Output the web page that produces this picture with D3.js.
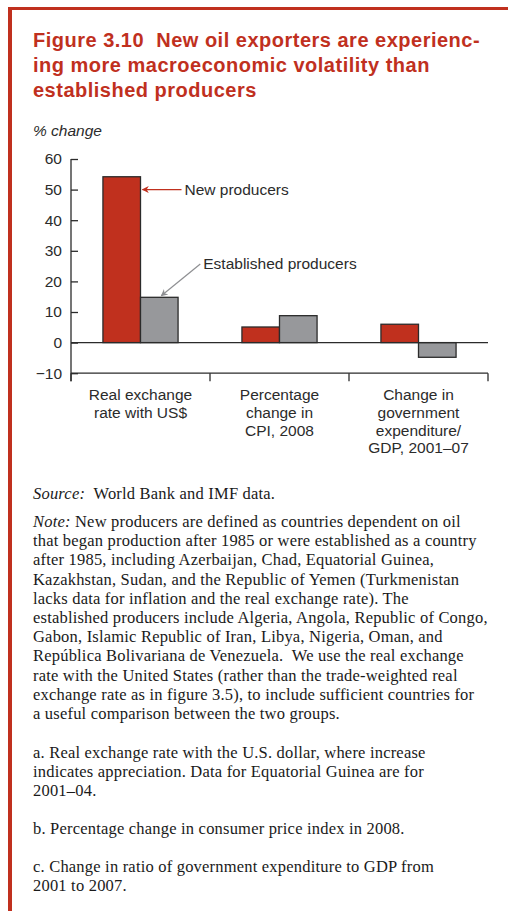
<!DOCTYPE html>
<html>
<head>
<meta charset="utf-8">
<script src="https://cdn.jsdelivr.net/npm/d3@7"></script>
<style>
  body { margin: 0; background: #fff; }
  .sans { font-family: "Liberation Sans", Arial, sans-serif; }
  .serif { font-family: "Liberation Serif", "Times New Roman", serif; }
</style>
</head>
<body>
<div class="chart"></div>
<script>
const width = 508;
const height = 911;
const red = '#c0301e';
const grey = '#97989b';
const ink = '#2b2b2b';

// data
const categories = ['Real exchange rate with US$', 'Percentage change in CPI, 2008', 'Change in government expenditure/GDP, 2001–07'];
const categoryLines = [
    ['Real exchange', 'rate with US$'],
    ['Percentage', 'change in', 'CPI, 2008'],
    ['Change in', 'government', 'expenditure/', 'GDP, 2001–07']
];
const series = ['New producers', 'Established producers'];
const newProducers = [54.2, 5.1, 6.0];
const establishedProducers = [14.8, 8.8, -4.8];
const yTicks = [-10, 0, 10, 20, 30, 40, 50, 60];

const titleLines = [
    'Figure 3.10\u00a0 New oil exporters are experienc-',
    'ing more macroeconomic volatility than',
    'established producers'
];
const noteLines = [
    'that began production after 1985 or were established as a country',
    'after 1985, including Azerbaijan, Chad, Equatorial Guinea,',
    'Kazakhstan, Sudan, and the Republic of Yemen (Turkmenistan',
    'lacks data for inflation and the real exchange rate). The',
    'established producers include Algeria, Angola, Republic of Congo,',
    'Gabon, Islamic Republic of Iran, Libya, Nigeria, Oman, and',
    'República Bolivariana de Venezuela.\u00a0 We use the real exchange',
    'rate with the United States (rather than the trade-weighted real',
    'exchange rate as in figure 3.5), to include sufficient countries for',
    'a useful comparison between the two groups.'
];
const footnotes = [
    ['a. Real exchange rate with the U.S. dollar, where increase', 'indicates appreciation. Data for Equatorial Guinea are for', '2001–04.'],
    ['b. Percentage change in consumer price index in 2008.'],
    ['c. Change in ratio of government expenditure to GDP from', '2001 to 2007.']
];

const svg = d3.select('.chart').append('svg')
    .attr('width', width)
    .attr('height', height)
    .attr('viewBox', `0 0 ${width} ${height}`);

/* frame */
svg.append('rect').attr('x', 8).attr('y', 7).attr('width', width - 8).attr('height', 3).attr('fill', red);
svg.append('rect').attr('x', 8).attr('y', 7).attr('width', 4).attr('height', height - 7).attr('fill', red);

/* title */
svg.append('g').selectAll('text')
    .data(titleLines)
    .enter().append('text')
    .attr('class', 'sans')
    .attr('x', 33)
    .attr('y', (d, i) => 47 + i * 25)
    .attr('fill', red)
    .attr('font-size', 20)
    .attr('letter-spacing', 0.5)
    .attr('font-weight', 'bold')
    .text(d => d);

const labelSize = 15.5;
svg.append('text')
    .attr('class', 'sans')
    .attr('x', 33).attr('y', 136)
    .attr('font-size', labelSize)
    .attr('font-style', 'italic')
    .attr('fill', ink)
    .text('% change');

/* scales */
const yScale = d3.scaleLinear().domain([-10, 60]).range([373.2, 159]);
const xScale = d3.scaleBand().domain(categories).range([71, 488]).padding(0);
const xSeries = d3.scaleBand().domain(series).range([0, xScale.bandwidth()]).paddingOuter(0.85).paddingInner(0);

const chart = svg.append('g');

/* y axis */
const yAxis = d3.axisLeft(yScale).tickValues(yTicks).tickSizeInner(-7).tickSizeOuter(0).tickPadding(9)
    .tickFormat(d => d < 0 ? '\u2212' + Math.abs(d) : d);
const gy = chart.append('g').attr('transform', 'translate(71,0)').call(yAxis);
gy.selectAll('path, line').attr('stroke', ink).attr('stroke-width', 1.3);
gy.select('.domain').attr('d', `M0,${yScale(60)}V${yScale(-10) + 8}`);
gy.selectAll('text').attr('class', 'sans').attr('font-size', labelSize).attr('fill', ink);

/* x axis */
const edges = [xScale(categories[0])].concat(categories.map(c => xScale(c) + xScale.bandwidth()));
chart.append('line')
    .attr('x1', xScale.range()[0]).attr('x2', xScale.range()[1])
    .attr('y1', yScale(-10)).attr('y2', yScale(-10))
    .attr('stroke', ink).attr('stroke-width', 1.3);
chart.append('g').selectAll('line')
    .data(edges)
    .enter().append('line')
    .attr('x1', d => d).attr('x2', d => d)
    .attr('y1', yScale(-10)).attr('y2', yScale(-10) + 8)
    .attr('stroke', ink).attr('stroke-width', 1.3);

const labels = chart.append('g').selectAll('text')
    .data(categories)
    .enter().append('text')
    .attr('class', 'sans')
    .attr('text-anchor', 'middle')
    .attr('font-size', labelSize)
    .attr('fill', ink)
    .attr('transform', d => `translate(${xScale(d) + xScale.bandwidth() / 2},${yScale(-10) + 27})`);
labels.selectAll('tspan')
    .data((d, i) => categoryLines[i])
    .enter().append('tspan')
    .attr('x', 0)
    .attr('y', (d, i) => i * 17.7)
    .text(d => d);

/* bars */
const rows = categories.map((c, i) => ({ cat: c, values: [newProducers[i], establishedProducers[i]] }));
const groups = chart.selectAll('.group')
    .data(rows)
    .enter().append('g')
    .attr('class', 'group')
    .attr('transform', d => `translate(${xScale(d.cat)},0)`);
groups.selectAll('rect')
    .data(d => d.values.map((v, j) => ({ s: series[j], v: v })))
    .enter().append('rect')
    .attr('x', d => xSeries(d.s))
    .attr('width', xSeries.bandwidth())
    .attr('y', d => yScale(Math.max(0, d.v)))
    .attr('height', d => Math.abs(yScale(d.v) - yScale(0)))
    .attr('fill', d => d.s === series[0] ? red : grey)
    .attr('stroke', ink)
    .attr('stroke-width', 1.3);

/* zero line */
chart.append('line')
    .attr('x1', xScale.range()[0]).attr('x2', xScale.range()[1])
    .attr('y1', yScale(0)).attr('y2', yScale(0))
    .attr('stroke', ink).attr('stroke-width', 1.3);

/* annotations */
const defs = svg.append('defs');
[['arrRed', red], ['arrGrey', '#8e8f92']].forEach(([id, c]) => {
    defs.append('marker')
        .attr('id', id)
        .attr('viewBox', '0 0 10 10')
        .attr('refX', 9).attr('refY', 5)
        .attr('markerWidth', 9).attr('markerHeight', 7)
        .attr('markerUnits', 'userSpaceOnUse')
        .attr('orient', 'auto')
        .append('path').attr('d', 'M0,0L10,5L0,10L3,5Z').attr('fill', c);
});

const x0 = xScale(categories[0]);
const newTip = [x0 + xSeries(series[0]) + xSeries.bandwidth() + 2, yScale(50)];
const newTail = [newTip[0] + 39, yScale(50)];
chart.append('line')
    .attr('x1', newTail[0]).attr('y1', newTail[1])
    .attr('x2', newTip[0]).attr('y2', newTip[1])
    .attr('stroke', red).attr('stroke-width', 1.2)
    .attr('marker-end', 'url(#arrRed)');
chart.append('text')
    .attr('class', 'sans')
    .attr('x', newTail[0] + 3).attr('y', newTail[1] + 5)
    .attr('font-size', labelSize).attr('fill', ink)
    .text(series[0]);

const estTip = [x0 + xSeries(series[1]) + xSeries.bandwidth() / 2 + 2, yScale(establishedProducers[0]) - 1.5];
const estTail = [estTip[0] + 39, yScale(25.7)];
chart.append('line')
    .attr('x1', estTail[0]).attr('y1', estTail[1])
    .attr('x2', estTip[0]).attr('y2', estTip[1])
    .attr('stroke', '#8e8f92').attr('stroke-width', 1.2)
    .attr('marker-end', 'url(#arrGrey)');
chart.append('text')
    .attr('class', 'sans')
    .attr('x', estTail[0] + 3).attr('y', estTail[1] + 5)
    .attr('font-size', labelSize).attr('fill', ink)
    .text(series[1]);

/* source and notes */
const notes = svg.append('g').attr('class', 'serif').attr('font-size', 16.5)
    .attr('letter-spacing', 0.2).attr('fill', '#1a1a1a');
const src = notes.append('text').attr('x', 33).attr('y', 499);
src.append('tspan').attr('font-style', 'italic').text('Source:');
src.append('tspan').text('\u00a0 World Bank and IMF data.');

const note = notes.append('text').attr('x', 33).attr('y', 527);
note.append('tspan').attr('font-style', 'italic').text('Note:');
note.append('tspan').text(' New producers are defined as countries dependent on oil');
notes.selectAll('.nl')
    .data(noteLines)
    .enter().append('text')
    .attr('class', 'nl')
    .attr('x', 33)
    .attr('y', (d, i) => 527 + (i + 1) * 19.2)
    .text(d => d);

const footStarts = [758, 834, 872];
footnotes.forEach((lines, k) => {
    notes.append('g').selectAll('text')
        .data(lines)
        .enter().append('text')
        .attr('x', 33)
        .attr('y', (d, i) => footStarts[k] + i * 19.2)
        .text(d => d);
});
</script>
</body>
</html>
